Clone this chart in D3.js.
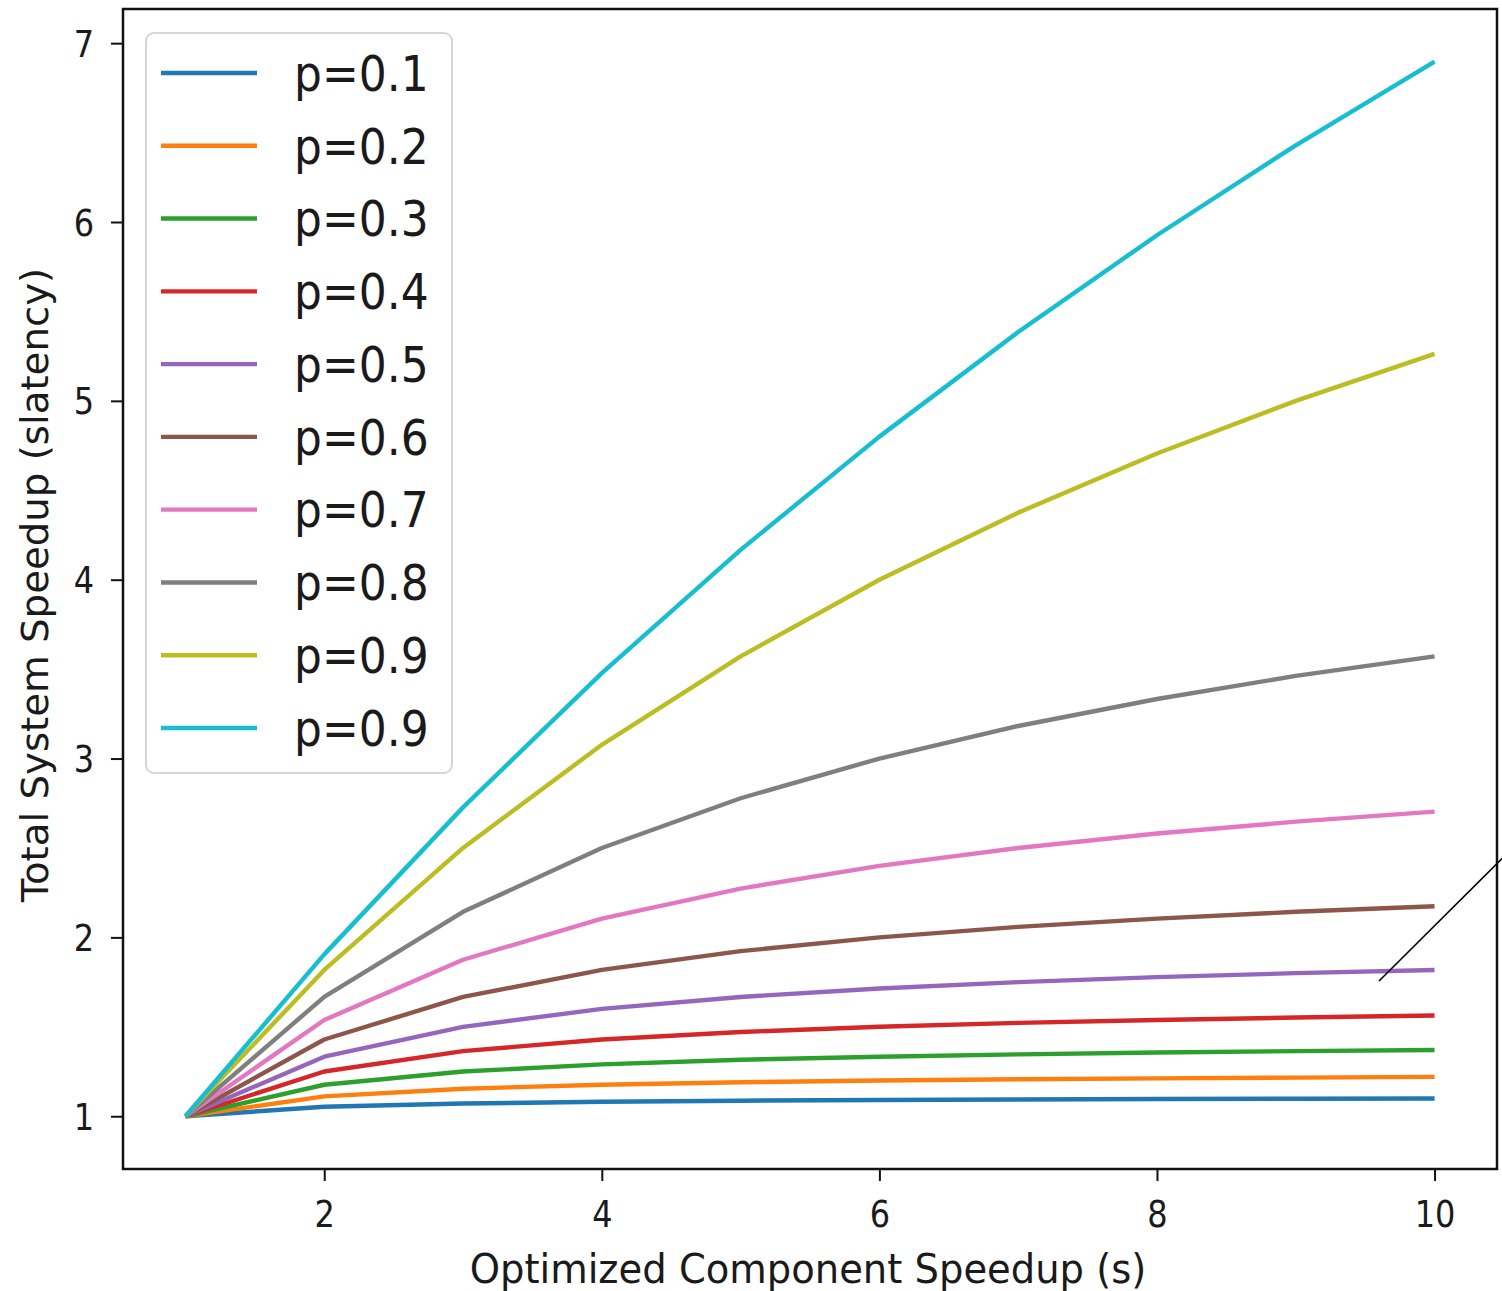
<!DOCTYPE html>
<html>
<head>
<meta charset="utf-8">
<script src="https://cdn.jsdelivr.net/npm/d3@7"></script>
<style>
  html, body { margin: 0; padding: 0; background: #fff; }
  svg { display: block; }
  text { font-family: "DejaVu Sans", sans-serif; fill: #1a1a1a; }
</style>
</head>
<body>
<svg id="chart" width="1502" height="1291"></svg>
<script>
// ---- data ----
const sValues = [1, 2, 3, 4, 5, 6, 7, 8, 9, 10];
const seriesLabels = ["p=0.1", "p=0.2", "p=0.3", "p=0.4", "p=0.5", "p=0.6", "p=0.7", "p=0.8", "p=0.9", "p=0.9"];
const p01 = [1, 1.053, 1.071, 1.081, 1.087, 1.091, 1.094, 1.096, 1.098, 1.099];
const p02 = [1, 1.111, 1.154, 1.176, 1.190, 1.200, 1.207, 1.212, 1.216, 1.220];
const p03 = [1, 1.176, 1.250, 1.290, 1.316, 1.333, 1.346, 1.356, 1.364, 1.370];
const p04 = [1, 1.250, 1.364, 1.429, 1.471, 1.500, 1.522, 1.538, 1.552, 1.563];
const p05 = [1, 1.333, 1.500, 1.600, 1.667, 1.714, 1.750, 1.778, 1.800, 1.818];
const p06 = [1, 1.429, 1.667, 1.818, 1.923, 2.000, 2.059, 2.105, 2.143, 2.174];
const p07 = [1, 1.538, 1.875, 2.105, 2.273, 2.400, 2.500, 2.581, 2.647, 2.703];
const p08 = [1, 1.667, 2.143, 2.500, 2.778, 3.000, 3.182, 3.333, 3.462, 3.571];
const p09 = [1, 1.818, 2.500, 3.077, 3.571, 4.000, 4.375, 4.706, 5.000, 5.263];
const p095 = [1, 1.905, 2.727, 3.478, 4.167, 4.800, 5.385, 5.926, 6.429, 6.897];
const seriesValues = [p01, p02, p03, p04, p05, p06, p07, p08, p09, p095];
const seriesColors = ["#1f77b4", "#ff7f0e", "#2ca02c", "#d62728", "#9467bd", "#8c564b", "#e377c2", "#7f7f7f", "#bcbd22", "#17becf"];
const xTicks = [2, 4, 6, 8, 10];
const yTicks = [1, 2, 3, 4, 5, 6, 7];
const xTitle = "Optimized Component Speedup (s)";
const yTitle = "Total System Speedup (slatency)";
// stray annotation stroke (data coords)
const annotX = [9.6, 10.49];
const annotY = [1.756, 2.444];

// ---- layout ----
const L = 123, R = 1497, T = 9, B = 1169;
const svg = d3.select("#chart");
const x = d3.scaleLinear().domain([0.55, 10.45]).range([L, R]);
const y = d3.scaleLinear().domain([0.705, 7.191]).range([B, T]);

const TICK_FS = 32, TICK_SY = 1.14;
const LAB_FS = 38.5, LAB_SY = 1.06;
const YLAB_FS = 36.5;
const LEG_FS = 44, LEG_SY = 1.12;

// lines
const line = d3.line().x((d, i) => x(sValues[i])).y(d => y(d));
const plot = svg.append("g");
seriesValues.forEach((vals, k) => {
  plot.append("path")
    .datum(vals)
    .attr("d", line)
    .attr("fill", "none")
    .attr("stroke", seriesColors[k])
    .attr("stroke-width", 4.4)
    .attr("stroke-linejoin", "round")
    .attr("stroke-linecap", "butt");
});

// axes ticks via d3 axes
const xAxis = d3.axisBottom(x).tickValues(xTicks).tickSize(12).tickPadding(0).tickFormat(d3.format("d"));
const yAxis = d3.axisLeft(y).tickValues(yTicks).tickSize(12).tickPadding(0).tickFormat(d3.format("d"));
const gx = svg.append("g").attr("transform", `translate(0,${B})`).call(xAxis);
const gy = svg.append("g").attr("transform", `translate(${L},0)`).call(yAxis);
[gx, gy].forEach(g => {
  g.select(".domain").remove();
  g.selectAll(".tick line").attr("stroke", "#111").attr("stroke-width", 2);
  g.selectAll(".tick text").remove();
});
gx.selectAll(".tick").append("text")
  .attr("transform", `translate(0,${1227 - B}) scale(1,${TICK_SY})`)
  .attr("text-anchor", "middle")
  .style("font-size", TICK_FS + "px")
  .text(d => d);
gy.selectAll(".tick").append("text")
  .attr("transform", `translate(-29,0) scale(1,${TICK_SY})`)
  .attr("dy", "0.36em")
  .attr("text-anchor", "end")
  .style("font-size", TICK_FS + "px")
  .text(d => d);

// spines
svg.append("rect")
  .attr("x", L).attr("y", T).attr("width", R - L).attr("height", B - T)
  .attr("fill", "none").attr("stroke", "#111").attr("stroke-width", 2.5);

// axis titles
svg.append("text")
  .attr("transform", `translate(${(L + R) / 2 - 2},1283) scale(1,${LAB_SY})`)
  .attr("text-anchor", "middle")
  .style("font-size", LAB_FS + "px")
  .text(xTitle);
svg.append("text")
  .attr("transform", `translate(48,${(T + B) / 2 - 4}) scale(1,${LAB_SY}) rotate(-90)`)
  .attr("text-anchor", "middle")
  .style("font-size", YLAB_FS + "px")
  .text(yTitle);

// legend
const leg = svg.append("g");
leg.append("rect")
  .attr("x", 146).attr("y", 33).attr("width", 306).attr("height", 740)
  .attr("rx", 8).attr("ry", 8)
  .attr("fill", "#fff").attr("fill-opacity", 0.9)
  .attr("stroke", "#d6d6d6").attr("stroke-width", 2);
const legY = d3.scalePoint().domain(d3.range(seriesLabels.length)).range([73, 728]);
seriesLabels.forEach((lab, k) => {
  const yy = legY(k);
  leg.append("line")
    .attr("x1", 161).attr("x2", 257).attr("y1", yy).attr("y2", yy)
    .attr("stroke", seriesColors[k]).attr("stroke-width", 4.4);
  leg.append("text")
    .attr("transform", `translate(294,${yy}) scale(1,${LEG_SY})`)
    .attr("dy", "0.36em")
    .style("font-size", LEG_FS + "px")
    .text(lab);
});

// annotation stroke
svg.append("line")
  .attr("x1", x(annotX[0])).attr("y1", y(annotY[0]))
  .attr("x2", x(annotX[1])).attr("y2", y(annotY[1]))
  .attr("stroke", "#000").attr("stroke-width", 1.6);
</script>
</body>
</html>
